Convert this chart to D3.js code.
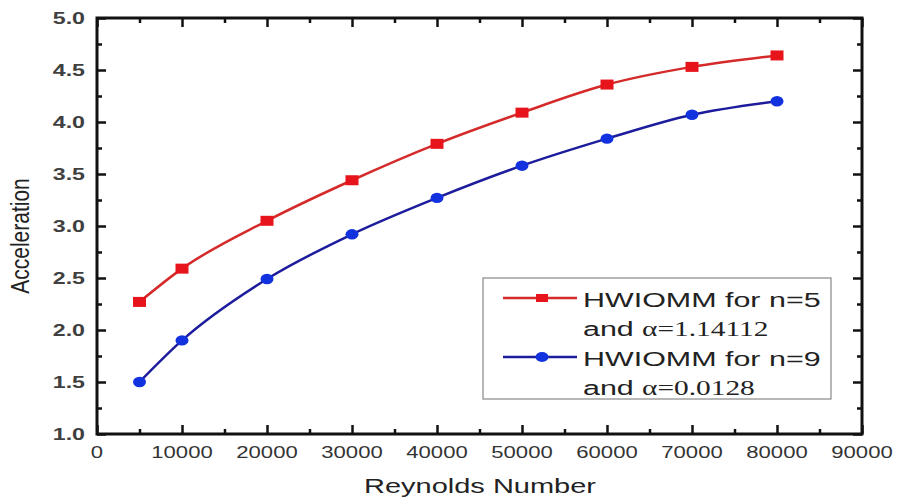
<!DOCTYPE html>
<html>
<head>
<meta charset="utf-8">
<script src="https://cdn.jsdelivr.net/npm/d3@7"></script>
<style>
  html, body { margin: 0; padding: 0; background: #fff; }
  svg { display: block; }
</style>
</head>
<body>
<svg id="chart" width="901" height="497"></svg>
<script>
// Reynolds number sample points
const reynolds = [5000, 10000, 20000, 30000, 40000, 50000, 60000, 70000, 80000];
// Acceleration for each model configuration
const accelN5 = [2.27, 2.59, 3.05, 3.44, 3.79, 4.09, 4.36, 4.53, 4.64];
const accelN9 = [1.50, 1.90, 2.49, 2.92, 3.27, 3.58, 3.84, 4.07, 4.20];
// Axis tick labels
const xTickValues = [0, 10000, 20000, 30000, 40000, 50000, 60000, 70000, 80000, 90000];
const yTickValues = [1.0, 1.5, 2.0, 2.5, 3.0, 3.5, 4.0, 4.5, 5.0];
const legendLabels = [
  ["HWIOMM for n=5", "and", "\u03b1=1.14112"],
  ["HWIOMM for n=9", "and", "\u03b1=0.0128"]
];

const svg = d3.select("#chart");
const m = { left: 97, top: 18, right: 862, bottom: 434 };

const x = d3.scaleLinear().domain([0, 90000]).range([m.left, m.right]);
const y = d3.scaleLinear().domain([1.0, 5.0]).range([m.bottom, m.top]);

const font = "Arial, 'Liberation Sans', sans-serif";
const serif = "'Liberation Serif', 'Times New Roman', 'DejaVu Serif', serif";
// the figure's lettering is set wide
const wide = 1.45;

// Inward-pointing ticks on all four sides
const xMinor = d3.range(0, 90001, 5000);
const yMinor = d3.range(1.0, 5.001, 0.25);
const majorLen = 9, minorLen = 5;
const isMajorX = v => v % 10000 === 0;
const isMajorY = v => Math.abs(v * 2 - Math.round(v * 2)) < 1e-6;
const tickStroke = g => g.selectAll(".tick line").attr("stroke", "#111").attr("stroke-width", 2.5);

svg.append("g").attr("transform", `translate(0,${m.bottom})`)
  .call(d3.axisBottom(x).tickValues(xMinor).tickSize(0).tickFormat(""))
  .call(g => g.select(".domain").remove())
  .call(g => g.selectAll(".tick line").attr("y2", d => -(isMajorX(d) ? majorLen : minorLen)))
  .call(tickStroke);
svg.append("g").attr("transform", `translate(0,${m.top})`)
  .call(d3.axisTop(x).tickValues(xMinor).tickSize(0).tickFormat(""))
  .call(g => g.select(".domain").remove())
  .call(g => g.selectAll(".tick line").attr("y2", d => (isMajorX(d) ? majorLen : minorLen)))
  .call(tickStroke);
svg.append("g").attr("transform", `translate(${m.left},0)`)
  .call(d3.axisLeft(y).tickValues(yMinor).tickSize(0).tickFormat(""))
  .call(g => g.select(".domain").remove())
  .call(g => g.selectAll(".tick line").attr("x2", d => (isMajorY(d) ? majorLen : minorLen)))
  .call(tickStroke);
svg.append("g").attr("transform", `translate(${m.right},0)`)
  .call(d3.axisRight(y).tickValues(yMinor).tickSize(0).tickFormat(""))
  .call(g => g.select(".domain").remove())
  .call(g => g.selectAll(".tick line").attr("x2", d => -(isMajorY(d) ? majorLen : minorLen)))
  .call(tickStroke);

// Frame
svg.append("rect")
  .attr("x", m.left).attr("y", m.top)
  .attr("width", m.right - m.left).attr("height", m.bottom - m.top)
  .attr("fill", "none").attr("stroke", "#111").attr("stroke-width", 3);

// Tick labels
svg.append("g").selectAll("text").data(xTickValues).join("text")
  .attr("transform", d => `translate(${x(d)},${m.bottom + 24}) scale(1.3,1)`)
  .attr("text-anchor", "middle")
  .attr("font-family", font).attr("font-size", 17)
  .attr("fill", "#333")
  .text(d => d);

svg.append("g").selectAll("text").data(yTickValues).join("text")
  .attr("transform", d => `translate(85,${y(d) + 5.5}) scale(${wide},1)`)
  .attr("text-anchor", "end")
  .attr("font-family", font).attr("font-size", 16).attr("font-weight", "bold")
  .attr("fill", "#404040")
  .text(d => d.toFixed(1));

// Axis titles
svg.append("text")
  .attr("transform", `translate(480,493) scale(${wide},1)`)
  .attr("text-anchor", "middle")
  .attr("font-family", font).attr("font-size", 20)
  .attr("fill", "#222")
  .text("Reynolds Number");

svg.append("text")
  .attr("transform", `translate(29,236) scale(1.2,1) rotate(-90)`)
  .attr("text-anchor", "middle")
  .attr("font-family", font).attr("font-size", 21)
  .attr("fill", "#222")
  .text("Acceleration");

// Series
const series = [
  { values: accelN5, line: "#d42a2a", mark: "#e8141c", shape: "square" },
  { values: accelN9, line: "#1c1c9c", mark: "#1232e0", shape: "circle" }
];

const lineGen = d3.line()
  .x(d => x(d[0])).y(d => y(d[1]))
  .curve(d3.curveMonotoneX);

series.forEach(s => {
  const pts = reynolds.map((r, i) => [r, s.values[i]]);
  svg.append("path").datum(pts)
    .attr("d", lineGen)
    .attr("fill", "none").attr("stroke", s.line).attr("stroke-width", 2.5);
  const g = svg.append("g");
  if (s.shape === "square") {
    g.selectAll("rect").data(pts).join("rect")
      .attr("x", d => x(d[0]) - 6.5).attr("y", d => y(d[1]) - 5)
      .attr("width", 13).attr("height", 10)
      .attr("fill", s.mark);
  } else {
    g.selectAll("ellipse").data(pts).join("ellipse")
      .attr("cx", d => x(d[0])).attr("cy", d => y(d[1]))
      .attr("rx", 6.5).attr("ry", 5.2).attr("fill", s.mark);
  }
});

// Legend
const lg = svg.append("g");
lg.append("rect")
  .attr("x", 483).attr("y", 278).attr("width", 348).attr("height", 121)
  .attr("fill", "#fff").attr("stroke", "#888").attr("stroke-width", 1.2);

const legendRows = [298, 357];
series.forEach((s, i) => {
  const cy = legendRows[i];
  lg.append("line")
    .attr("x1", 503).attr("x2", 577).attr("y1", cy).attr("y2", cy)
    .attr("stroke", s.line).attr("stroke-width", 2.5);
  if (s.shape === "square") {
    lg.append("rect").attr("x", 536).attr("y", cy - 4)
      .attr("width", 12).attr("height", 8).attr("fill", s.mark);
  } else {
    lg.append("ellipse").attr("cx", 542).attr("cy", cy)
      .attr("rx", 6.5).attr("ry", 5).attr("fill", s.mark);
  }
  lg.append("text")
    .attr("transform", `translate(583,${cy + 8.5}) scale(${wide},1)`)
    .attr("font-family", font).attr("font-size", 21).attr("fill", "#222")
    .text(legendLabels[i][0]);
  lg.append("text")
    .attr("transform", `translate(583,${cy + 38}) scale(${wide},1)`)
    .attr("font-family", font).attr("font-size", 21).attr("fill", "#222")
    .text(legendLabels[i][1]);
  lg.append("text")
    .attr("transform", `translate(642,${cy + 38}) scale(1.4,1)`)
    .attr("font-family", serif).attr("font-size", 21).attr("fill", "#222")
    .text(legendLabels[i][2]);
});
</script>
</body>
</html>
